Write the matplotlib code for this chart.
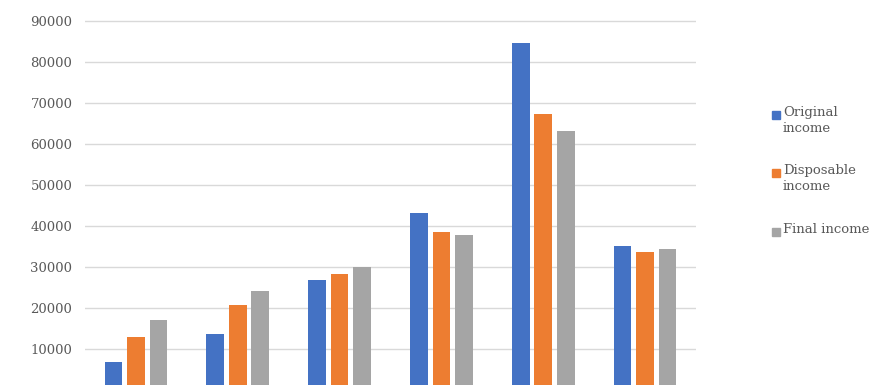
import matplotlib
matplotlib.use("Agg")
import matplotlib.pyplot as plt
from matplotlib.patches import Rectangle
import numpy as np

categories = ["Bottom", "2nd", "3rd", "4th", "Top", "All"]
series_names = ["Original\nincome", "Disposable\nincome", "Final income"]
original = [6900, 13700, 26900, 43200, 84700, 35200]
disposable = [13000, 20800, 28300, 38600, 67400, 33700]
final = [17100, 24200, 30000, 37900, 63200, 34500]
yticks = [10000, 20000, 30000, 40000, 50000, 60000, 70000, 80000, 90000]
colors = ["#4472C4", "#ED7D31", "#A5A5A5"]

W, H = 878, 385
fig = plt.figure(figsize=(W / 100, H / 100), dpi=100)
fig.patch.set_facecolor("white")

ax_left, ax_right = 85, 696
ax_top, ax_bot = 10, 385
ax = fig.add_axes([ax_left / W, (H - ax_bot) / H, (ax_right - ax_left) / W, (ax_bot - ax_top) / H])

x = np.arange(len(categories))
width = 0.172
pitch = 0.221
for i, (vals, c) in enumerate(zip([original, disposable, final], colors)):
    ax.bar(x + (i - 1) * pitch, vals, width=width, color=c, zorder=3)

ax.set_xlim(-0.5, len(categories) - 0.5)
ax.set_ylim(1293, 92756)
ax.set_yticks(yticks)
ax.set_yticklabels([str(v) for v in yticks], family="DejaVu Serif", fontsize=9.5, color="#595959")
# category labels lie below the visible (cropped) area in the reference
ax.set_xticks([])
ax.tick_params(axis="y", length=0, pad=9)
ax.grid(axis="y", color="#D9D9D9", linewidth=1.0, zorder=0)
for s in ax.spines.values():
    s.set_visible(False)

# legend
leg_y = [115, 173, 232]
for name, c, yy in zip(series_names, colors, leg_y):
    fig.patches.append(Rectangle((772 / W, (H - yy - 4) / H), 8 / W, 8 / H,
                                 transform=fig.transFigure, color=c, figure=fig))
    fig.text(783 / W, (H - yy + 9) / H, name, family="DejaVu Serif", fontsize=9.5,
             color="#595959", va="top", ha="left", linespacing=1.3)

fig.savefig("out.png", dpi=100, facecolor="white")
